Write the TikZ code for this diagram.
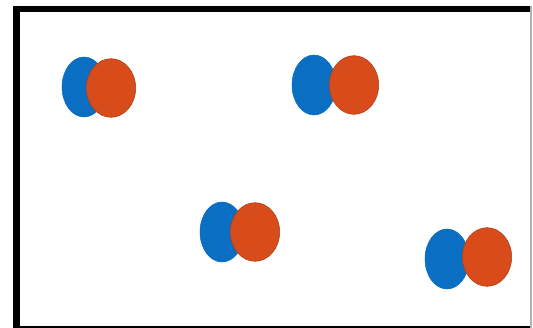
\documentclass[tikz,border=0pt]{standalone}
\usepackage{tikz}
\usetikzlibrary{shapes.geometric}
\definecolor{dotblue}{HTML}{0A6FC2}
\definecolor{dotorange}{HTML}{D84B1B}
\definecolor{dotedge}{HTML}{A8401C}
\tikzset{
  bluedot/.style={ellipse, fill=dotblue, draw=dotblue, minimum width=33pt, minimum height=45pt, inner sep=0pt},
  orangedot/.style={ellipse, fill=dotorange, draw=dotedge, thin, minimum width=37pt, minimum height=44pt, inner sep=0pt}
}
\begin{document}
\begin{tikzpicture}[x=0.75pt, y=-0.75pt]
        \useasboundingbox (0,0) rectangle (533,328);
        % frame, open at the right
        \draw[line width=4.5pt] (13,9) -- (531,9);
        \draw[line width=5.2pt] (16.5,6) -- (16.5,332);
        \draw[line width=5.2pt] (13,329) -- (531,329);
        \draw[gray!60, line width=1pt] (531,6) -- (531,328);
        \node[bluedot] (blueA) at (84,87) {};
        \node[orangedot] (orangeA) at (111,88) {};
        \node[bluedot] (blueB) at (314,85) {};
        \node[orangedot] (orangeB) at (354,85) {};
        \node[bluedot] (blueC) at (222,232) {};
        \node[orangedot] (orangeC) at (255,232) {};
        \node[bluedot] (blueD) at (447,259) {};
        \node[orangedot] (orangeD) at (487,257) {};
      \end{tikzpicture}
\end{document}
